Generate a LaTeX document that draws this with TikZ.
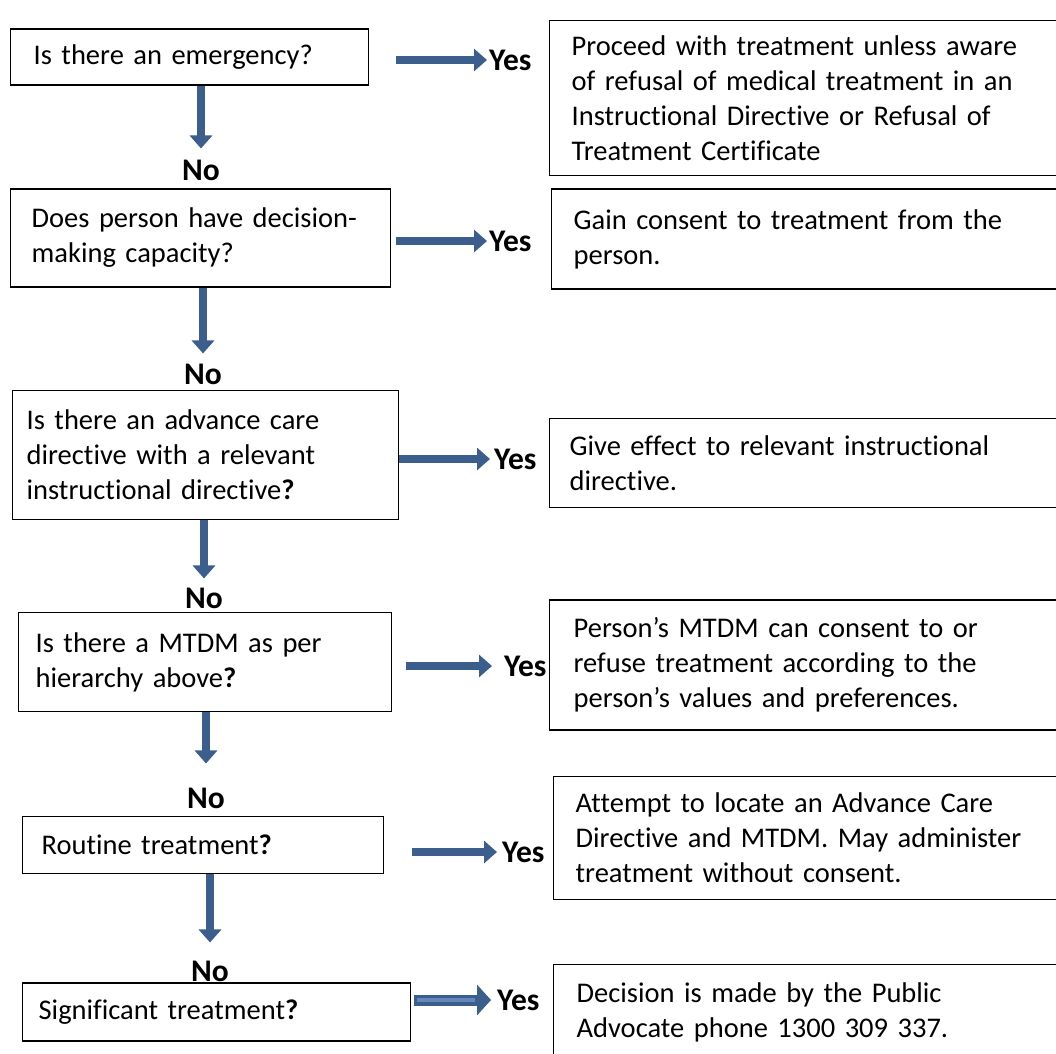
\documentclass[tikz,border=0pt]{standalone}
\usepackage{fontspec}
\setmainfont[Ligatures={NoCommon}]{Carlito}
\usetikzlibrary{arrows.meta}
\definecolor{arrowblue}{RGB}{59,94,140}
\definecolor{arrowlight}{RGB}{100,136,188}

\begin{document}
\begin{tikzpicture}
  [x=1pt,y=-1pt,
   every node/.style={font=\fontsize{28.5}{35}\selectfont},
   qbox/.style={draw,line width=1.3pt,anchor=west,align=left,inner ysep=0pt,inner xsep=#1},
   abox/.style={qbox=#1,text width=480pt},
   answer/.style={font=\fontsize{31.5}{35}\selectfont\bfseries,inner sep=0pt},
   flow/.style={draw=arrowblue,line width=8pt,-{Triangle[length=13pt,width=22pt]}},
   flowwide/.style={draw=arrowblue,line width=11pt,-{Triangle[length=14pt,width=30pt]}},
   flowcore/.style={draw=arrowlight,line width=4pt}]

  \clip (0,0) rectangle (1056,1053);

  \node[qbox=23pt,text width=312pt,minimum height=56pt] (q1) at (10,57)
    {Is there an emergency?};
  \node[qbox=21pt,text width=338pt,minimum height=98pt] (q2) at (10,238)
    {Does person have decision-\\making capacity?};
  \node[qbox=14pt,text width=358pt,minimum height=129pt] (q3) at (12,455)
    {Is there an advance care\\directive with a relevant\\instructional directive\textbf{?}};
  \node[qbox=17pt,text width=339pt,minimum height=99pt] (q4) at (18,662)
    {Is there a MTDM as per\\hierarchy above\textbf{?}};
  \node[qbox=19pt,text width=323pt,minimum height=57pt] (q5) at (22,845)
    {Routine treatment\textbf{?}};
  \node[qbox=16pt,text width=356pt,minimum height=58pt] (q6) at (22,1012)
    {Significant treatment\textbf{?}};

  \node[abox=22pt,minimum height=155pt] (a1) at (549,98)
    {Proceed with treatment unless aware\\of refusal of medical treatment in an\\Instructional Directive or Refusal of\\Treatment Certificate};
  \node[abox=22pt,minimum height=100pt] (a2) at (551,239)
    {Gain consent to treatment from the\\person.};
  \node[abox=20pt,minimum height=89pt] (a3) at (549,463)
    {Give effect to relevant instructional\\directive.};
  \node[abox=24pt,minimum height=130pt] (a4) at (549,665)
    {Person’s MTDM can consent to or\\refuse treatment according to the\\person’s values and preferences.};
  \node[abox=22pt,minimum height=123pt] (a5) at (553,838)
    {Attempt to locate an Advance Care\\Directive and MTDM. May administer\\treatment without consent.};
  \node[abox=23pt,minimum height=95pt] (a6) at (553,1012)
    {Decision is made by the Public\\Advocate phone 1300 309 337.};

  \node[answer,anchor=west] (yes1) at (489,60) {Yes};
  \node[answer,anchor=west] (yes2) at (489,241) {Yes};
  \node[answer,anchor=west] (yes3) at (494,459) {Yes};
  \node[answer,anchor=west] (yes4) at (504,666) {Yes};
  \node[answer,anchor=west] (yes5) at (502,852) {Yes};
  \node[answer,anchor=west] (yes6) at (497,1000) {Yes};

  \node[answer] (no1) at (201,170) {No};
  \node[answer] (no2) at (203,374) {No};
  \node[answer] (no3) at (204,598) {No};
  \node[answer] (no4) at (206,798) {No};
  \node[answer] (no5) at (210,971) {No};

  \draw[flow,shorten <=27pt,shorten >=2pt] (q1.east |- yes1) -- (yes1);
  \draw[flow,shorten <=5pt,shorten >=2pt]  (q2.east |- yes2) -- (yes2);
  \draw[flow,shorten >=4pt]                (q3.east |- yes3) -- (yes3);
  \draw[flow,shorten <=14pt,shorten >=12pt] (q4.east |- yes4) -- (yes4);
  \draw[flow,shorten <=28pt,shorten >=5pt] (q5.east |- yes5) -- (yes5);
  \draw[flowwide,shorten <=3pt,shorten >=6pt] (q6.east |- yes6) -- (yes6);
  \draw[flowcore,shorten <=6pt,shorten >=22pt] (q6.east |- yes6) -- (yes6);

  \draw[flow,shorten >=11pt] (q1.south -| no1) -- (no1);
  \draw[flow,shorten >=10pt] (q2.south -| no2) -- (no2);
  \draw[flow,shorten >=9pt]  (q3.south -| no3) -- (no3);
  \draw[flow,shorten >=24pt] (q4.south -| no4) -- (no4);
  \draw[flow,shorten >=18pt] (q5.south -| no5) -- (no5);
\end{tikzpicture}
\end{document}
